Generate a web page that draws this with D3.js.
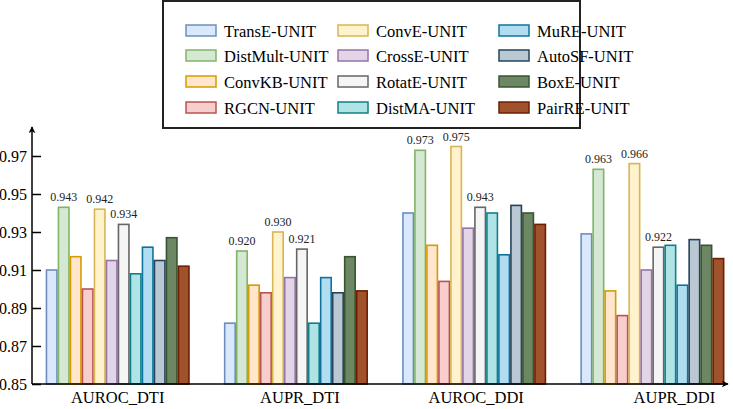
<!DOCTYPE html>
<html>
<head>
<meta charset="utf-8">
<script src="https://cdn.jsdelivr.net/npm/d3@7"></script>
<style>
  html, body { margin: 0; padding: 0; background: #fff; }
  svg { display: block; font-family: "Liberation Serif", "Times New Roman", serif; }
</style>
</head>
<body>
<svg id="chart" width="733" height="409"></svg>
<script>
// ---- data ----
const metrics = ["AUROC_DTI", "AUPR_DTI", "AUROC_DDI", "AUPR_DDI"];
const models = ["TransE-UNIT", "DistMult-UNIT", "ConvKB-UNIT", "RGCN-UNIT",
                "ConvE-UNIT", "CrossE-UNIT", "RotatE-UNIT", "DistMA-UNIT",
                "MuRE-UNIT", "AutoSF-UNIT", "BoxE-UNIT", "PairRE-UNIT"];
const transE   = [0.910, 0.882, 0.940, 0.929];
const distMult = [0.943, 0.920, 0.973, 0.963];
const convKB   = [0.917, 0.902, 0.923, 0.899];
const rgcn     = [0.900, 0.898, 0.904, 0.886];
const convE    = [0.942, 0.930, 0.975, 0.966];
const crossE   = [0.915, 0.906, 0.932, 0.910];
const rotatE   = [0.934, 0.921, 0.943, 0.922];
const distMA   = [0.908, 0.882, 0.940, 0.923];
const muRE     = [0.922, 0.906, 0.918, 0.902];
const autoSF   = [0.915, 0.898, 0.944, 0.926];
const boxE     = [0.927, 0.917, 0.940, 0.923];
const pairRE   = [0.912, 0.899, 0.934, 0.916];
const yTicks = [0.85, 0.87, 0.89, 0.91, 0.93, 0.95, 0.97];
const annotated = ["DistMult-UNIT", "ConvE-UNIT", "RotatE-UNIT"];

const seriesValues = [transE, distMult, convKB, rgcn, convE, crossE, rotatE,
                      distMA, muRE, autoSF, boxE, pairRE];

// ---- styles ----
const fills   = ["#dae8fc", "#d5e8d4", "#ffe6cc", "#f8cecc", "#fff2cc", "#e1d5e7",
                 "#f5f5f5", "#b0e3e6", "#b1ddf0", "#bac8d3", "#6d8764", "#a0522d"];
const strokes = ["#6c8ebf", "#82b366", "#d79b00", "#b85450", "#d6b656", "#9673a6",
                 "#666666", "#0e8088", "#10739e", "#23445d", "#3a5431", "#6d1f00"];
const labelShift = [0, 4, 2, 22];

const svg = d3.select("#chart");
const X0 = 32, Y0 = 384;

const y = d3.scaleLinear().domain([0.85, 0.97]).range([Y0, 156]);
const xg = d3.scalePoint().domain(metrics).range([117.7, 652.4]);
const xb = d3.scaleBand().domain(models).range([-72, 72]).padding(0);

const data = [];
metrics.forEach((m, mi) => {
  models.forEach((s, si) => {
    data.push({ metric: m, model: s, si, value: seriesValues[si][mi] });
  });
});

// bars
svg.append("g").selectAll("rect").data(data).join("rect")
  .attr("x", d => xg(d.metric) + xb(d.model) + 0.75)
  .attr("y", d => y(d.value))
  .attr("width", xb.bandwidth() - 1.5)
  .attr("height", d => Y0 - y(d.value))
  .attr("fill", d => fills[d.si])
  .attr("stroke", d => strokes[d.si])
  .attr("stroke-width", 1.6);

// annotations
svg.append("g").selectAll("text").data(data.filter(d => annotated.includes(d.model))).join("text")
  .attr("x", d => xg(d.metric) + xb(d.model) + xb.bandwidth() / 2)
  .attr("y", d => y(d.value) - 6)
  .attr("text-anchor", "middle")
  .attr("font-size", 12)
  .attr("fill", "#222")
  .text(d => d3.format(".3f")(d.value));

// y axis
const yAxis = d3.axisRight(y).tickValues(yTicks).tickSize(9).tickFormat(d3.format(".2f"));
const ya = svg.append("g").attr("transform", `translate(${X0},0)`).call(yAxis);
ya.attr("font-family", null);
ya.select(".domain").remove();
ya.selectAll(".tick line").attr("stroke", "#000").attr("stroke-width", 1.5);
ya.selectAll(".tick text")
  .attr("x", -5).attr("text-anchor", "end")
  .attr("font-family", "Liberation Serif, serif").attr("font-size", 16).attr("fill", "#000");

// axis lines with arrows
const defs = svg.append("defs");
defs.append("marker").attr("id", "arrow").attr("viewBox", "0 0 10 10")
  .attr("refX", 9).attr("refY", 5).attr("markerWidth", 7).attr("markerHeight", 7)
  .attr("markerUnits", "userSpaceOnUse").attr("orient", "auto")
  .append("path").attr("d", "M0,0 L10,5 L0,10 L3,5 Z").attr("fill", "#000");

svg.append("line").attr("x1", X0).attr("y1", Y0).attr("x2", X0).attr("y2", 127)
  .attr("stroke", "#000").attr("stroke-width", 1.5).attr("marker-end", "url(#arrow)");
svg.append("line").attr("x1", X0).attr("y1", Y0).attr("x2", 728).attr("y2", Y0)
  .attr("stroke", "#000").attr("stroke-width", 1.5).attr("marker-end", "url(#arrow)");

// x labels
svg.append("g").selectAll("text").data(metrics).join("text")
  .attr("x", (d, i) => xg(d) + labelShift[i])
  .attr("y", 403)
  .attr("text-anchor", "middle")
  .attr("font-size", 16.5)
  .attr("fill", "#000")
  .text(d => d);

// legend
const lg = svg.append("g");
lg.append("rect").attr("x", 163).attr("y", 1).attr("width", 417).attr("height", 127)
  .attr("fill", "#fff").attr("stroke", "#222").attr("stroke-width", 2);
const colX = [186, 338, 499];
const rowY = [31, 56, 82, 108];
models.forEach((m, i) => {
  const c = Math.floor(i / 4), r = i % 4;
  lg.append("rect").attr("x", colX[c]).attr("y", rowY[r] - 6).attr("width", 30).attr("height", 11)
    .attr("fill", fills[i]).attr("stroke", strokes[i]).attr("stroke-width", 1.5);
  lg.append("text").attr("x", colX[c] + 38).attr("y", rowY[r] + 5.5)
    .attr("font-size", 16.5).attr("fill", "#000").text(m);
});
</script>
</body>
</html>
